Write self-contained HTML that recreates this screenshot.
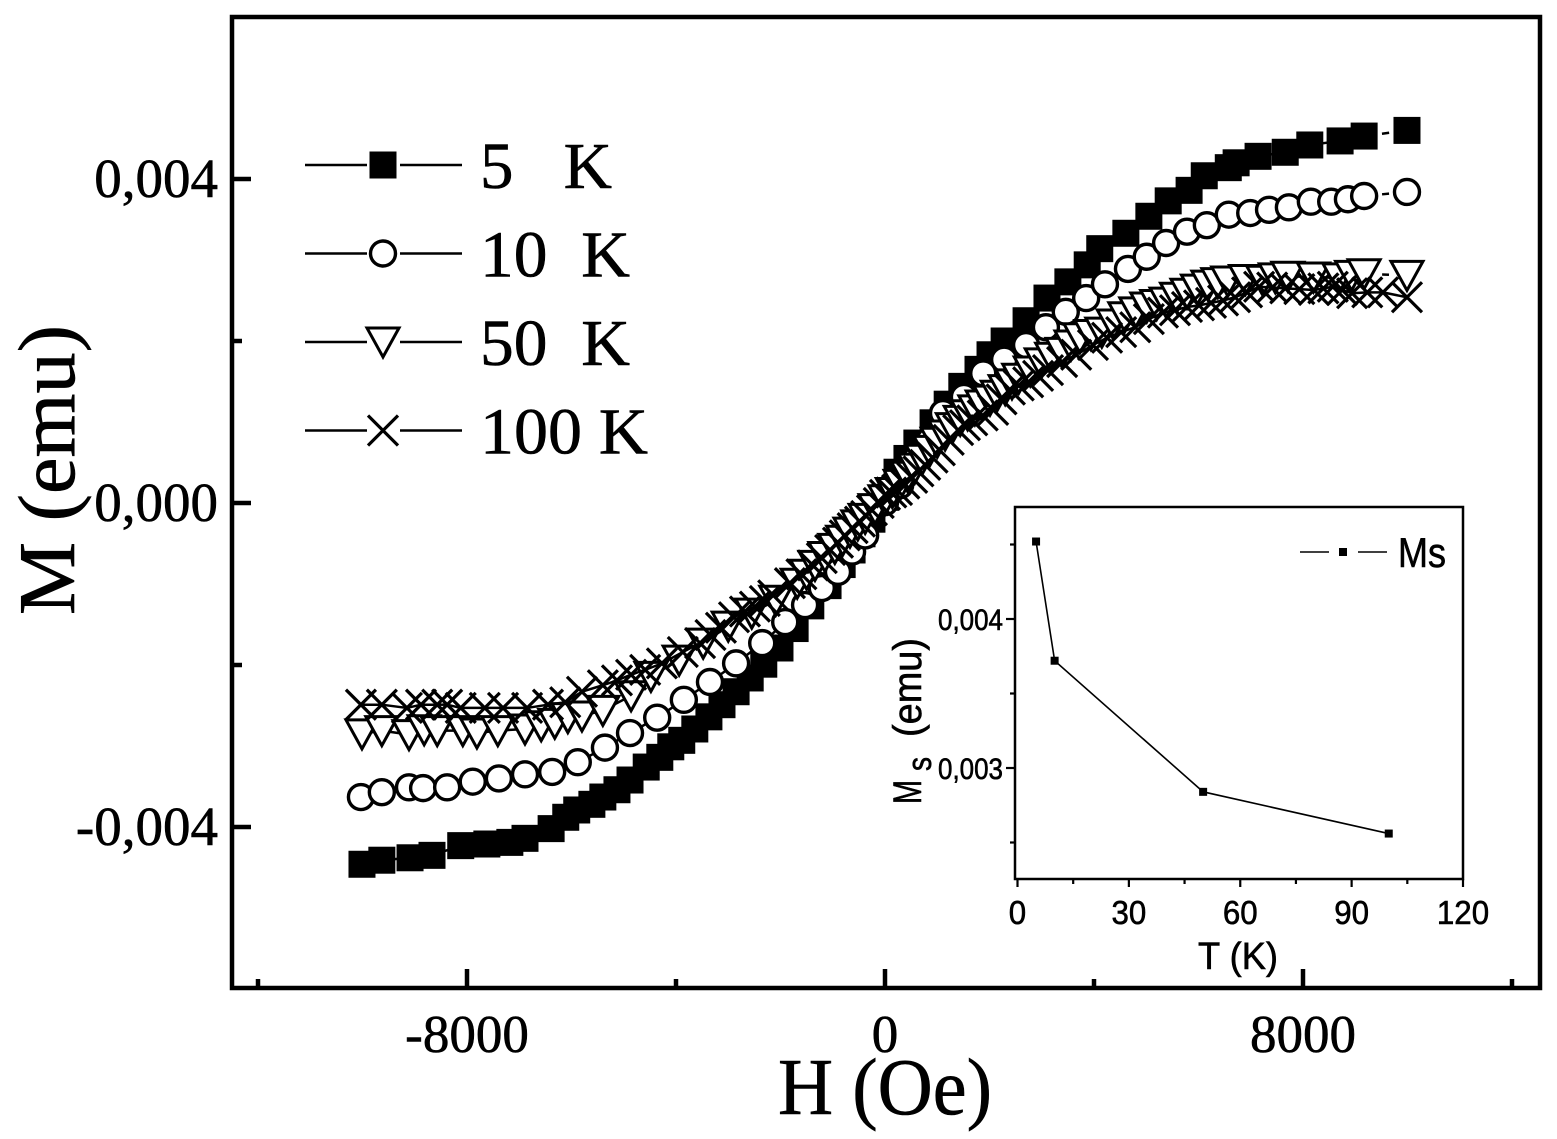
<!DOCTYPE html>
<html>
<head>
<meta charset="utf-8">
<title>M vs H</title>
<style>
html,body{margin:0;padding:0;background:#fff;overflow:hidden;}
svg{display:block;}
text{fill:#000;stroke:#000;stroke-width:0.6px;}
.serif{font-family:"Liberation Serif",serif;}
.sans{font-family:"Liberation Sans",sans-serif;}
</style>
</head>
<body>
<svg id="chart" xmlns="http://www.w3.org/2000/svg" width="1557" height="1139" viewBox="0 0 1557 1139">
<rect x="0" y="0" width="1557" height="1139" fill="#fff"/>
<g id="series-layer"></g>
<rect x="232" y="17" width="1308" height="971" fill="none" stroke="#000" stroke-width="4.5"/>
<g id="main-axes"></g>
<text class="serif" x="778" y="1114" font-size="80" textLength="214" lengthAdjust="spacingAndGlyphs">H (Oe)</text>
<text class="serif" transform="translate(74,615) rotate(-90)" font-size="80" textLength="290" lengthAdjust="spacingAndGlyphs">M (emu)</text>
<g id="legend"></g>
<rect x="1015" y="507" width="448" height="372" fill="#fff" stroke="#000" stroke-width="2.5"/>
<g id="inset"></g>
<g>
<text class="sans" transform="translate(921,804) rotate(-90)" font-size="40" textLength="24" lengthAdjust="spacingAndGlyphs">M</text>
<text class="sans" transform="translate(931,771) rotate(-90)" font-size="34" textLength="14" lengthAdjust="spacingAndGlyphs">s</text>
<text class="sans" transform="translate(921,737) rotate(-90)" font-size="40" textLength="99" lengthAdjust="spacingAndGlyphs">(emu)</text>
</g>
<text class="sans" x="1198" y="969" font-size="38" textLength="80" lengthAdjust="spacingAndGlyphs">T (K)</text>
</svg>
<script>
var xTickValues = [-8000, 0, 8000];
var xTickLabels = ["-8000", "0", "8000"];
var xMinorValues = [-12000, -4000, 4000, 12000];
var yTickValues = [0.004, 0, -0.004];
var yTickLabels = ["0,004", "0,000", "-0,004"];
var yMinorValues = [0.002, -0.002];

/* Series magnetization values are in units of 10^-3 emu. */
var h5K = [-10010,-9630,-9090,-8670,-8120,-7620,-7180,-6890,-6390,-6110,-5900,-5610,-5400,-5130,-4880,-4570,-4310,-4100,-3890,-3640,-3370,-3120,-2850,-2580,-2320,-2010,-1720,-1420,-1090,-820,-630,-440,-250,0,230,420,610,920,1190,1470,1780,2010,2280,2700,3100,3500,3870,4110,4610,5050,5420,5820,6110,6570,6720,7140,7660,8130,8710,9170,9990];
var m5K = [-4.46,-4.41,-4.38,-4.35,-4.23,-4.21,-4.19,-4.14,-4.02,-3.88,-3.79,-3.72,-3.63,-3.54,-3.42,-3.26,-3.14,-3.01,-2.93,-2.79,-2.64,-2.49,-2.33,-2.16,-1.99,-1.79,-1.55,-1.27,-1.02,-0.76,-0.58,-0.38,-0.20,0.07,0.38,0.55,0.74,0.99,1.22,1.44,1.65,1.83,2.00,2.25,2.53,2.73,2.94,3.14,3.33,3.54,3.73,3.86,4.04,4.14,4.20,4.28,4.33,4.42,4.47,4.53,4.60];

var h10K = [-10030,-9630,-9110,-8840,-8380,-7890,-7390,-6890,-6370,-5880,-5360,-4880,-4360,-3850,-3350,-2850,-2350,-1910,-1530,-1210,-900,-630,-380,0,290,570,860,1110,1510,1880,2280,2700,3080,3460,3850,4210,4650,5010,5380,5780,6160,6580,6990,7350,7730,8150,8540,8860,9170,9990];
var m10K = [-3.63,-3.57,-3.51,-3.52,-3.51,-3.44,-3.40,-3.35,-3.32,-3.20,-3.02,-2.84,-2.65,-2.43,-2.21,-1.98,-1.73,-1.47,-1.26,-1.05,-0.85,-0.60,-0.40,0.01,0.22,0.53,0.78,1.11,1.31,1.60,1.77,1.95,2.17,2.36,2.53,2.70,2.89,3.04,3.21,3.35,3.43,3.56,3.58,3.62,3.65,3.72,3.72,3.75,3.79,3.84];

var h50K = [-10010,-9630,-9110,-8820,-8570,-8080,-7810,-7410,-6890,-6580,-6320,-6070,-5800,-5400,-4860,-4480,-3940,-3480,-3000,-2550,-2090,
-1680,-1500,-1340,-1150,-960,-810,-670,-520,-380,-190,
0,140,290,430,570,710,860,1000,1150,1290,
1440,1580,1720,1860,2010,2150,2300,2430,2560,2780,
2990,3190,3390,3560,3730,3940,4150,4370,4590,4800,
5010,5200,5380,5580,5780,5980,6180,6370,6560,6900,
7230,7470,7710,8200,8690,8930,9170,9990];
var m50K = [-2.85,-2.81,-2.86,-2.80,-2.81,-2.81,-2.84,-2.81,-2.79,-2.75,-2.72,-2.65,-2.63,-2.56,-2.38,-2.14,-1.94,-1.73,-1.52,-1.36,-1.20,
-0.99,-0.88,-0.77,-0.66,-0.56,-0.46,-0.36,-0.27,-0.19,-0.07,
0.04,0.13,0.23,0.33,0.43,0.54,0.65,0.75,0.84,0.93,
1.02,1.09,1.15,1.21,1.27,1.33,1.40,1.47,1.54,1.63,
1.73,1.80,1.86,1.95,2.04,2.08,2.11,2.21,2.30,2.36,
2.42,2.45,2.48,2.54,2.59,2.64,2.69,2.72,2.74,2.76,
2.75,2.78,2.80,2.79,2.78,2.81,2.83,2.81];

var h100K = [-10030,-9630,-9150,-8880,-8570,-8380,-8120,-7660,-7310,-6850,-6450,-6120,-5800,-5400,-5130,-4860,-4590,-4270,-3870,-3540,-3340,-3140,-2890,-2680,-2490,-2300,-2140,
-1820,-1600,-1380,-1210,-1050,-900,-770,-620,-480,-360,
-250,-120,0,120,230,370,520,640,770,910,
1050,1220,1400,1530,1670,1870,2070,2230,2390,2560,
2740,2930,3120,3390,3660,3980,4250,4520,4790,5050,
5320,5550,5780,6010,6240,6470,6700,6930,7160,7410,
7660,7930,8210,8390,8570,8750,8940,9230,9530,9990];
var m100K = [-2.49,-2.49,-2.53,-2.49,-2.49,-2.49,-2.53,-2.53,-2.53,-2.53,-2.49,-2.46,-2.33,-2.25,-2.19,-2.12,-2.06,-1.98,-1.84,-1.73,-1.63,-1.54,-1.41,-1.34,-1.28,-1.21,-1.14,
-0.99,-0.88,-0.77,-0.68,-0.58,-0.49,-0.40,-0.31,-0.23,-0.16,
-0.09,0.00,0.10,0.13,0.16,0.24,0.31,0.39,0.47,0.56,
0.65,0.78,0.90,0.96,1.02,1.08,1.15,1.28,1.40,1.45,
1.49,1.57,1.64,1.74,1.83,1.95,2.04,2.11,2.17,2.27,
2.35,2.38,2.42,2.44,2.47,2.50,2.54,2.60,2.67,2.66,
2.65,2.64,2.63,2.65,2.67,2.63,2.59,2.60,2.60,2.54];

var legendLabels = ["5   K", "10  K", "50  K", "100 K"];

var insetT = [5, 10, 50, 100];
var insetMs = [0.00452, 0.00372, 0.00284, 0.00256];
var insetXTicks = [0, 30, 60, 90, 120];
var insetXMinor = [15, 45, 75, 105];
var insetYTicks = [0.004, 0.003];
var insetYLabels = ["0,004", "0,003"];
var insetYMinor = [0.0045, 0.0035, 0.0025];

var NS = "http://www.w3.org/2000/svg";
function xScale(h) { return 885 + h * 418 / 8000; }
function yScale(m) { return 503 - m * 81000; }
function seriesY(m) { return yScale(m * 0.001); }
function insetX(t) { return 1017.5 + t * 445.5 / 120; }
function insetY(m) { return 619 + (0.004 - m) * 149000; }

function make(parent, tag, attrs, name) {
  var el = document.createElementNS(NS, tag);
  for (var k in attrs) { el.setAttribute(k, attrs[k]); }
  
  
  parent.appendChild(el);
  return el;
}

function drawMarker(parent, kind, cx, cy, name) {
  if (kind === "square") {
    make(parent, "rect", {x: cx - 13.5, y: cy - 13.5, width: 27, height: 27, fill: "#000"}, name);
  } else if (kind === "circle") {
    make(parent, "circle", {cx: cx, cy: cy, r: 12.5, fill: "#fff", stroke: "#000", "stroke-width": 3.4}, name);
  } else if (kind === "triangle") {
    var p = (cx - 16) + "," + (cy - 14) + " " + (cx + 16) + "," + (cy - 14) + " " + cx + "," + (cy + 15);
    make(parent, "polygon", {points: p, fill: "#fff", stroke: "#000", "stroke-width": 3}, name);
  } else {
    var d = "M" + (cx - 15) + " " + (cy - 15) + "L" + (cx + 15) + " " + (cy + 15) + "M" + (cx + 15) + " " + (cy - 15) + "L" + (cx - 15) + " " + (cy + 15);
    make(parent, "path", {d: d, fill: "none", stroke: "#000", "stroke-width": 3.2}, name);
  }
}

function drawSeries(parent, hs, ms, kind, key) {
  var g = make(parent, "g", {}, "series-" + key);
  for (var i = 0; i + 1 < hs.length; i++) {
    var x1 = xScale(hs[i]), y1 = seriesY(ms[i]), x2 = xScale(hs[i + 1]), y2 = seriesY(ms[i + 1]);
    var dx = x2 - x1, dy = y2 - y1, len = Math.sqrt(dx * dx + dy * dy);
    var gap = 18;
    if (len > gap * 2) {
      var ux = dx / len, uy = dy / len;
      make(g, "line", {x1: x1 + ux * gap, y1: y1 + uy * gap, x2: x2 - ux * gap, y2: y2 - uy * gap, stroke: "#000", "stroke-width": 2.5}, "line-segment-" + key);
    } else {
      make(g, "line", {x1: x1, y1: y1, x2: x2, y2: y2, stroke: "#000", "stroke-width": 2.5}, "line-segment-" + key);
    }
  }
  for (var j = 0; j < hs.length; j++) {
    drawMarker(g, kind, xScale(hs[j]), seriesY(ms[j]), "point-" + key);
  }
}

var layer = document.getElementById("series-layer");
drawSeries(layer, h5K, m5K, "square", "5k");
drawSeries(layer, h10K, m10K, "circle", "10k");
drawSeries(layer, h50K, m50K, "triangle", "50k");
drawSeries(layer, h100K, m100K, "cross", "100k");

var axes = document.getElementById("main-axes");
xTickValues.forEach(function (v, i) {
  var x = xScale(v);
  make(axes, "line", {x1: x, y1: 988, x2: x, y2: 969, stroke: "#000", "stroke-width": 4.5}, "x-major-tick");
  var t = make(axes, "text", {x: x, y: 1052, "text-anchor": "middle", "font-size": 53, "class": "serif"}, "x-tick-label");
  t.textContent = xTickLabels[i];
});
xMinorValues.forEach(function (v) {
  var x = xScale(v);
  make(axes, "line", {x1: x, y1: 988, x2: x, y2: 979, stroke: "#000", "stroke-width": 4.5}, "x-minor-tick");
});
yTickValues.forEach(function (v, i) {
  var y = yScale(v);
  make(axes, "line", {x1: 232, y1: y, x2: 251, y2: y, stroke: "#000", "stroke-width": 4.5}, "y-major-tick");
  var t = make(axes, "text", {x: 218, y: y + 18, "text-anchor": "end", "font-size": 55, "class": "serif"}, "y-tick-label");
  t.textContent = yTickLabels[i];
});
yMinorValues.forEach(function (v) {
  var y = yScale(v);
  make(axes, "line", {x1: 232, y1: y, x2: 242, y2: y, stroke: "#000", "stroke-width": 4.5}, "y-minor-tick");
});

var legend = document.getElementById("legend");
var legendKinds = ["square", "circle", "triangle", "cross"];
var legendWidths = [132, 150, 150, 168];
legendLabels.forEach(function (lab, i) {
  var y = 165 + i * 88.5;
  var g = make(legend, "g", {}, "legend-entry");
  make(g, "line", {x1: 305, y1: y, x2: 367, y2: y, stroke: "#000", "stroke-width": 2.5}, "legend-line-left");
  make(g, "line", {x1: 400, y1: y, x2: 462, y2: y, stroke: "#000", "stroke-width": 2.5}, "legend-line-right");
  drawMarker(g, legendKinds[i], 383, y, "legend-marker");
  var t = make(g, "text", {x: 480, y: y + 23, "font-size": 66, "class": "serif", textLength: legendWidths[i], lengthAdjust: "spacingAndGlyphs"}, "legend-label");
  t.setAttribute("xml:space", "preserve");
  t.style.whiteSpace = "pre";
  t.textContent = lab;
});

var inset = document.getElementById("inset");
var insetPts = [];
for (var n = 0; n < insetT.length; n++) {
  insetPts.push(insetX(insetT[n]) + "," + insetY(insetMs[n]));
}
make(inset, "polyline", {points: insetPts.join(" "), fill: "none", stroke: "#000", "stroke-width": 1.6}, "inset-ms-line");
for (var q = 0; q < insetT.length; q++) {
  make(inset, "rect", {x: insetX(insetT[q]) - 4, y: insetY(insetMs[q]) - 4, width: 8, height: 8, fill: "#000"}, "inset-ms-point");
}
insetXTicks.forEach(function (v) {
  var x = insetX(v);
  make(inset, "line", {x1: x, y1: 879, x2: x, y2: 887, stroke: "#000", "stroke-width": 2.2}, "inset-x-major-tick");
  var t = make(inset, "text", {x: x, y: 924, "text-anchor": "middle", "font-size": 33, "class": "sans", textLength: String(v).length * 17.4, lengthAdjust: "spacingAndGlyphs"}, "inset-x-tick-label");
  t.textContent = String(v);
});
insetXMinor.forEach(function (v) {
  var x = insetX(v);
  make(inset, "line", {x1: x, y1: 879, x2: x, y2: 884, stroke: "#000", "stroke-width": 2.2}, "inset-x-minor-tick");
});
insetYTicks.forEach(function (v, i) {
  var y = insetY(v);
  make(inset, "line", {x1: 1015, y1: y, x2: 1006, y2: y, stroke: "#000", "stroke-width": 2.2}, "inset-y-major-tick");
  var t = make(inset, "text", {x: 938, y: y + 11, "font-size": 30, "class": "sans", textLength: 65, lengthAdjust: "spacingAndGlyphs"}, "inset-y-tick-label");
  t.textContent = insetYLabels[i];
});
insetYMinor.forEach(function (v) {
  var y = insetY(v);
  make(inset, "line", {x1: 1015, y1: y, x2: 1010, y2: y, stroke: "#000", "stroke-width": 2.2}, "inset-y-minor-tick");
});
make(inset, "line", {x1: 1300, y1: 552, x2: 1329, y2: 552, stroke: "#000", "stroke-width": 1.6}, "inset-legend-line-left");
make(inset, "rect", {x: 1339, y: 548, width: 8, height: 8, fill: "#000"}, "inset-legend-marker");
make(inset, "line", {x1: 1358, y1: 552, x2: 1387, y2: 552, stroke: "#000", "stroke-width": 1.6}, "inset-legend-line-right");
var msLabel = make(inset, "text", {x: 1398, y: 567, "font-size": 42, "class": "sans", textLength: 48, lengthAdjust: "spacingAndGlyphs"}, "inset-legend-label");
msLabel.textContent = "Ms";
</script>
</body>
</html>
